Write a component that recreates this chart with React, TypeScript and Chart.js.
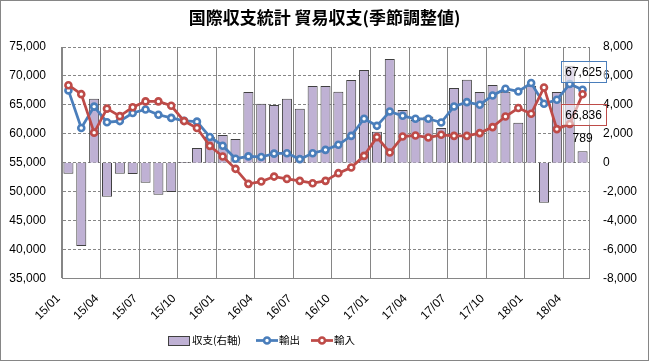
import React, { useEffect, useRef } from 'react';
import { Chart, registerables } from 'chart.js';

Chart.register(...registerables);

const months = [
  '15/01', '15/02', '15/03', '15/04', '15/05', '15/06', '15/07', '15/08', '15/09', '15/10', '15/11', '15/12',
  '16/01', '16/02', '16/03', '16/04', '16/05', '16/06', '16/07', '16/08', '16/09', '16/10', '16/11', '16/12',
  '17/01', '17/02', '17/03', '17/04', '17/05', '17/06', '17/07', '17/08', '17/09', '17/10', '17/11', '17/12',
  '18/01', '18/02', '18/03', '18/04', '18/05',
];

const shownTicks = ['15/01', '15/04', '15/07', '15/10', '16/01', '16/04', '16/07', '16/10', '17/01', '17/04', '17/07', '17/10', '18/01', '18/04'];

const balance = [
  -760, -5750, 4420, -2350, -760, -780, -1380, -2220, -2020, 50, 1020, 1800,
  1910, 1640, 4890, 4070, 4000, 4420, 3730, 5310, 5310, 4900, 5725, 6410,
  2150, 7170, 3650, 2950, 3200, 2400, 5170, 5730, 4890, 5380, 4900, 2760,
  5320, -2760, 4890, 6700, 789,
];

const exports = [
  67500, 61000, 64700, 62000, 62200, 63600, 64200, 63300, 62750, 62250, 62100, 59450,
  57950, 55700, 56100, 56000, 56580, 56650, 55620, 56650, 57230, 58100, 59650, 62600,
  61380, 63860, 63110, 62600, 62600, 61950, 64720, 65480, 65020, 66630, 67790, 67320,
  68770, 65190, 65880, 68600, 67625,
];

const imports = [
  68400, 66850, 60200, 64350, 63050, 64600, 65600, 65600, 64850, 62200, 61000, 57920,
  56070, 53950, 51350, 51750, 52610, 52210, 51870, 51470, 51870, 53200, 54170, 56190,
  59430, 56770, 59530, 59710, 59360, 59830, 59650, 59650, 60120, 61160, 62990, 64450,
  63460, 68010, 60810, 61700, 66836,
];

const leftTicks = { min: 35000, max: 75000, step: 5000 };
const rightTicks = { min: -8000, max: 8000, step: 2000 };

const TITLE = '国際収支統計 貿易収支(季節調整値)';
const seriesNames = ['収支(右軸)', '輸出', '輸入'];

const BLUE = '#4A7EBB';
const RED = '#BE4B48';
const BAR = '#BFB1D4';
const GRID = '#868686';
const NUM_FONT = '"Liberation Sans", Arial, sans-serif';
const JP_FONT = '"Noto Sans CJK JP", sans-serif';

const fmt = (v: number) => v.toLocaleString('en-US');

const decorPlugin = {
  id: 'decor',
  afterDatasetsDraw(chart: any) {
    const ctx = chart.ctx;
    const last = exports.length - 1;
    const pb = chart.getDatasetMeta(0).data[last];
    const pe = chart.getDatasetMeta(1).data[last];
    const pi = chart.getDatasetMeta(2).data[last];
    ctx.save();
    ctx.font = '12px ' + NUM_FONT;
    ctx.textAlign = 'center';
    ctx.textBaseline = 'middle';
    const box = (text: string, x: number, y: number, color: string) => {
      const w = ctx.measureText(text).width + 8;
      const h = 21;
      ctx.fillStyle = 'rgba(255,255,255,0.55)';
      ctx.fillRect(x - w / 2, y - h / 2, w, h);
      ctx.strokeStyle = color;
      ctx.lineWidth = 1;
      ctx.strokeRect(Math.round(x - w / 2) + 0.5, Math.round(y - h / 2) + 0.5, Math.round(w), h);
      ctx.fillStyle = '#000';
      ctx.fillText(text, x + 0.5, y + 1);
    };
    box(fmt(exports[last]), pe.x + 0.5, pe.y - 18, BLUE);
    box(fmt(imports[last]), pi.x + 0.5, pi.y + 20, RED);
    ctx.fillStyle = '#000';
    ctx.fillText(fmt(balance[last]), pb.x, pb.y - 13);
    ctx.restore();
  },
  afterDraw(chart: any) {
    const ctx = chart.ctx;
    ctx.save();
    // outer border
    ctx.strokeStyle = GRID;
    ctx.lineWidth = 1;
    ctx.strokeRect(0.5, 0.5, chart.width - 1, chart.height - 1);
    // title
    ctx.fillStyle = '#000';
    ctx.font = 'bold 17px ' + JP_FONT;
    ctx.textAlign = 'center';
    ctx.textBaseline = 'middle';
    ctx.fillText(TITLE, chart.width / 2, 18);
    // legend
    const ly = 340.5;
    ctx.font = '10.5px ' + JP_FONT;
    ctx.textAlign = 'left';
    ctx.fillStyle = BAR;
    ctx.fillRect(168, ly - 4.5, 21, 9);
    ctx.strokeStyle = '#404040';
    ctx.lineWidth = 1;
    ctx.strokeRect(168.5, ly - 4, 21, 9);
    ctx.fillStyle = '#000';
    ctx.fillText(seriesNames[0], 192, ly);
    const lineSwatch = (sx: number, color: string) => {
      ctx.strokeStyle = color;
      ctx.lineWidth = 2.75;
      ctx.beginPath();
      ctx.moveTo(sx, ly);
      ctx.lineTo(sx + 22, ly);
      ctx.stroke();
      ctx.beginPath();
      ctx.arc(sx + 11, ly, 3, 0, Math.PI * 2);
      ctx.fillStyle = '#fff';
      ctx.fill();
      ctx.lineWidth = 2.6;
      ctx.stroke();
    };
    lineSwatch(256, BLUE);
    ctx.fillStyle = '#000';
    ctx.fillText(seriesNames[1], 279, ly);
    lineSwatch(311, RED);
    ctx.fillStyle = '#000';
    ctx.fillText(seriesNames[2], 334, ly);
    ctx.restore();
  },
};

export default function App() {
  const ref = useRef<HTMLCanvasElement | null>(null);

  useEffect(() => {
    document.body.style.margin = '0';
    const canvas = ref.current!;
    Chart.defaults.font.family = NUM_FONT;
    Chart.defaults.font.size = 12;
    Chart.defaults.color = '#000';

    const pointCfg = (color: string) => ({
      borderColor: color,
      backgroundColor: color,
      borderWidth: 2.75,
      pointRadius: 3,
      pointBorderWidth: 2.6,
      pointBackgroundColor: '#fff',
      pointBorderColor: color,
      tension: 0,
    });

    const chart = new Chart(canvas, {
      type: 'bar',
      data: {
        labels: months,
        datasets: [
          {
            type: 'bar',
            label: seriesNames[0],
            data: balance,
            yAxisID: 'yR',
            backgroundColor: BAR,
            borderColor: '#404040',
            borderWidth: 1,
            categoryPercentage: 1,
            barPercentage: 0.78,
            order: 3,
          } as any,
          { type: 'line', label: seriesNames[1], data: exports, yAxisID: 'yL', order: 2, ...pointCfg(BLUE) } as any,
          { type: 'line', label: seriesNames[2], data: imports, yAxisID: 'yL', order: 1, ...pointCfg(RED) } as any,
        ],
      },
      options: {
        responsive: false,
        animation: false,
        events: [],
        layout: { padding: { top: 47, left: 0, right: 0, bottom: 0 } },
        plugins: { legend: { display: false }, tooltip: { enabled: false }, title: { display: false } },
        scales: {
          x: {
            offset: true,
            grid: {
              offset: true,
              drawTicks: false,
              color: (c: any) => (c.index % 3 === 0 ? GRID : 'rgba(0,0,0,0)'),
              lineWidth: 1,
            },
            border: { color: GRID },
            ticks: {
              autoSkip: false,
              maxRotation: 45,
              minRotation: 45,
              padding: 13,
              labelOffset: -10,
              font: { size: 12 },
              callback: (_v: any, i: number) => (shownTicks.includes(months[i]) ? months[i] : ''),
            },
            afterFit: (s: any) => { s.height = 82.5; },
          },
          yL: {
            position: 'left',
            min: leftTicks.min,
            max: leftTicks.max,
            ticks: { stepSize: leftTicks.step, padding: 16, callback: (v: any) => fmt(Number(v)) },
            grid: { color: GRID, drawTicks: false },
            border: { color: GRID, dash: [3, 2] },
            afterFit: (s: any) => { s.width = 62; },
          },
          yR: {
            position: 'right',
            min: rightTicks.min,
            max: rightTicks.max,
            ticks: { stepSize: rightTicks.step, padding: 14, callback: (v: any) => fmt(Number(v)) },
            grid: { display: false, drawTicks: false },
            border: { color: GRID },
            afterFit: (s: any) => { s.width = 60; },
          },
        },
      },
      plugins: [decorPlugin],
    });
    return () => chart.destroy();
  }, []);

  return <canvas ref={ref} width={649} height={361} style={{ display: 'block' }} />;
}
